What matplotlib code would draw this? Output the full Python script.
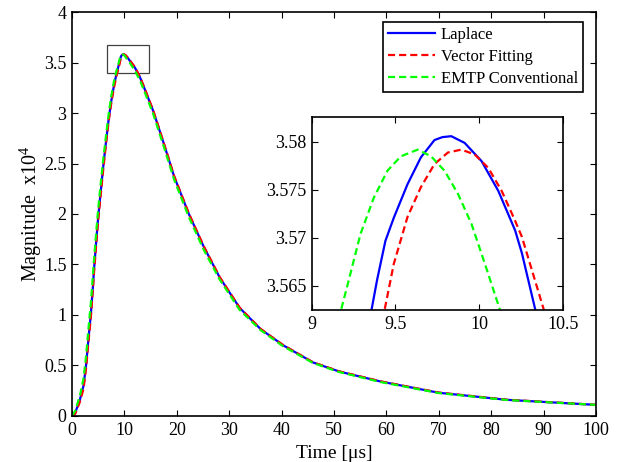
import matplotlib
matplotlib.use("Agg")
import matplotlib.pyplot as plt
from matplotlib.patches import Rectangle

plt.rcParams['font.family'] = ['Liberation Serif', 'DejaVu Serif']
plt.rcParams['mathtext.fontset'] = 'custom'
plt.rcParams['mathtext.rm'] = 'Liberation Serif'
plt.rcParams['mathtext.it'] = 'Liberation Serif:italic'

# ---- main curves (values in units of 1e4) ----
t_main = [0, 0.6, 1.5, 2.2, 2.7, 3.1, 3.6, 4.0, 4.2, 4.7, 5.0, 5.4, 6.0, 6.5, 7.0,
          7.5, 8.0, 8.5, 8.8, 9.1, 9.35, 9.6, 9.8, 10.0, 10.3, 10.6, 11.0, 11.5,
          12.0, 13.0, 14.0, 15.5, 17.5, 19.5, 22.3, 25.1, 28.2, 32.0, 36.0, 40.3,
          46.0, 51.0, 59.0, 70.0, 83.0, 100.0]
laplace_main = [0, 0.03, 0.16, 0.30, 0.51, 0.74, 1.01, 1.29, 1.45, 1.78, 1.97, 2.18,
                2.49, 2.72, 2.94, 3.12, 3.27, 3.39, 3.45, 3.51, 3.562, 3.5766, 3.5805,
                3.5783, 3.565, 3.548, 3.52, 3.485, 3.45, 3.35, 3.22, 3.02, 2.70, 2.37,
                2.00, 1.68, 1.37, 1.07, 0.86, 0.70, 0.53, 0.44, 0.34, 0.23, 0.16, 0.11]
vf_main = [0, 0.02, 0.14, 0.27, 0.48, 0.71, 0.98, 1.26, 1.42, 1.75, 1.94, 2.15,
           2.46, 2.70, 2.92, 3.10, 3.25, 3.37, 3.43, 3.49, 3.555, 3.5738, 3.5785,
           3.5790, 3.5695, 3.551, 3.524, 3.49, 3.455, 3.355, 3.225, 3.025, 2.705,
           2.375, 2.005, 1.685, 1.375, 1.072, 0.862, 0.702, 0.532, 0.442, 0.342,
           0.232, 0.161, 0.111]
emtp_main = [0, 0.05, 0.20, 0.37, 0.60, 0.84, 1.12, 1.40, 1.55, 1.87, 2.05, 2.26,
             2.56, 2.78, 2.99, 3.17, 3.31, 3.42, 3.475, 3.535, 3.5735, 3.5791, 3.5770,
             3.5700, 3.548, 3.525, 3.50, 3.46, 3.42, 3.32, 3.19, 2.99, 2.67, 2.34,
             1.97, 1.65, 1.35, 1.05, 0.85, 0.69, 0.525, 0.435, 0.335, 0.227, 0.158, 0.11]

# ---- zoomed inset curves ----
t_lap_in = [9.33, 9.357, 9.39, 9.44, 9.49, 9.572, 9.652, 9.733, 9.78, 9.833, 9.913,
            10.014, 10.114, 10.214, 10.255, 10.335, 10.36]
lap_in = [3.5610, 3.5625, 3.5656, 3.5697, 3.5721, 3.5756, 3.5784, 3.5802, 3.5805,
          3.5806, 3.5799, 3.5780, 3.5749, 3.5708, 3.5684, 3.5625, 3.5605]
t_vf_in = [9.42, 9.435, 9.49, 9.572, 9.652, 9.733, 9.813, 9.893, 9.973, 10.054,
           10.134, 10.214, 10.255, 10.386, 10.40]
vf_in = [3.5615, 3.5625, 3.5673, 3.5722, 3.5753, 3.5777, 3.5789, 3.5792, 3.5787,
         3.5773, 3.5749, 3.5718, 3.5701, 3.5625, 3.5615]
t_emtp_in = [9.16, 9.175, 9.211, 9.291, 9.371, 9.452, 9.532, 9.633, 9.713, 9.793,
             9.873, 9.953, 10.034, 10.124, 10.14]
emtp_in = [3.5615, 3.5625, 3.5649, 3.5704, 3.5742, 3.5770, 3.5785, 3.5792, 3.5785,
           3.5770, 3.5746, 3.5715, 3.5673, 3.5625, 3.5615]

labels = ['Laplace', 'Vector Fitting', 'EMTP Conventional']
x_ticks = [0, 10, 20, 30, 40, 50, 60, 70, 80, 90, 100]
y_ticks = [0, 0.5, 1, 1.5, 2, 2.5, 3, 3.5, 4]
y_ticklabels = ['0', '0.5', '1', '1.5', '2', '2.5', '3', '3.5', '4']
xin_ticks = [9, 9.5, 10, 10.5]
yin_ticks = [3.565, 3.57, 3.575, 3.58]

fig = plt.figure(figsize=(6.25, 4.62), dpi=100)
ax = fig.add_axes([0.1152, 0.0996, 0.8384, 0.8744])

lw = 1.6
dash = (0, (3.2, 1.8))
ax.plot(t_main, laplace_main, color='#0000ff', lw=lw, label=labels[0])
ax.plot(t_main, vf_main, color='#ff0000', lw=lw, ls=dash, label=labels[1])
ax.plot(t_main, emtp_main, color='#00ff00', lw=lw, ls=dash, label=labels[2])
ax.add_patch(Rectangle((6.6, 3.40), 8.1, 0.27, fill=False, edgecolor='#404040', lw=0.9))

ax.set_xlim(0, 100)
ax.set_ylim(0, 4)
ax.set_xticks(x_ticks)
ax.set_yticks(y_ticks)
ax.set_yticklabels(y_ticklabels)
ax.tick_params(direction='in', top=True, right=True, labelsize=13, length=4, width=0.8, pad=4)
for s in ax.spines.values():
    s.set_linewidth(1.2)
ax.set_xlabel('Time [\u03bcs]', fontsize=14, labelpad=5)
ax.set_ylabel('Magnitude  x10$^4$', fontsize=14.5, labelpad=0)

leg = ax.legend(loc='upper right', bbox_to_anchor=(583 / 625, 1 - 22 / 462),
                bbox_transform=fig.transFigure, fontsize=12, frameon=True,
                fancybox=False, edgecolor='black', framealpha=1, borderpad=0.3,
                handlelength=2.8, handletextpad=0.35, labelspacing=0.36,
                borderaxespad=0)
leg.get_frame().set_linewidth(1.2)

axi = fig.add_axes([0.4987, 0.329, 0.4021, 0.4178])
axi.plot(t_lap_in, lap_in, color='#0000ff', lw=lw)
axi.plot(t_vf_in, vf_in, color='#ff0000', lw=lw, ls=dash)
axi.plot(t_emtp_in, emtp_in, color='#00ff00', lw=lw, ls=dash)
axi.set_xlim(9, 10.5)
axi.set_ylim(3.5625, 3.5826)
axi.set_xticks(xin_ticks)
axi.set_xticklabels(['9', '9.5', '10', '10.5'])
axi.set_yticks(yin_ticks)
axi.set_yticklabels(['3.565', '3.57', '3.575', '3.58'])
axi.tick_params(direction='in', top=True, right=True, labelsize=13, length=4, width=0.8, pad=4)
for s in axi.spines.values():
    s.set_linewidth(1.2)

fig.savefig('out.png', dpi=100)
